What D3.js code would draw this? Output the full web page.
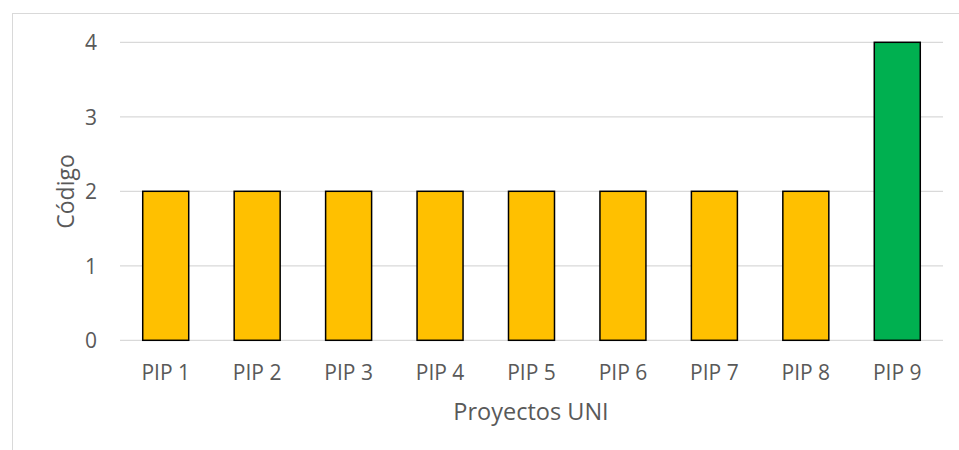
<!DOCTYPE html>
<html><head><meta charset="utf-8">
<script src="https://cdn.jsdelivr.net/npm/d3@7"></script>
<style>
html,body{margin:0;padding:0;background:#fff;}
svg{display:block;font-family:"Open Sans",sans-serif;}
</style></head>
<body>
<svg id="c" width="959" height="450"></svg>
<script>
const categories = ["PIP 1","PIP 2","PIP 3","PIP 4","PIP 5","PIP 6","PIP 7","PIP 8","PIP 9"];
const values = [2,2,2,2,2,2,2,2,4];
const barColors = ["#FFC000","#FFC000","#FFC000","#FFC000","#FFC000","#FFC000","#FFC000","#FFC000","#00B050"];
const yTicks = [0,1,2,3,4];
const xTitle = "Proyectos UNI";
const yTitle = "Código";

(function(){
const svg = d3.select("#c");
const textColor = "#595959";
// chart border
svg.append("rect").attr("x",12.5).attr("y",13.5).attr("width",959).attr("height",460)
  .attr("fill","#fff").attr("stroke","#d9d9d9").attr("stroke-width",1);

const pLeft = 120, pRight = 943, pTop = 42.3, pBottom = 340.3;
const x = d3.scaleBand().domain(categories).range([pLeft,pRight]).paddingInner(0.497).paddingOuter(0.2485);
const y = d3.scaleLinear().domain([0,4]).range([pBottom,pTop]);

// gridlines
svg.append("g").selectAll("line").data(yTicks).join("line")
  .attr("x1",pLeft).attr("x2",pRight)
  .attr("y1",d=>y(d)).attr("y2",d=>y(d))
  .attr("stroke","#d9d9d9").attr("stroke-width",1.3);

// bars
svg.append("g").selectAll("rect").data(values).join("rect")
  .attr("x",(d,i)=>x(categories[i]))
  .attr("width",x.bandwidth())
  .attr("y",d=>y(d))
  .attr("height",d=>y(0)-y(d))
  .attr("fill",(d,i)=>barColors[i])
  .attr("stroke","#000").attr("stroke-width",1.5);

// y axis
const yAxis = d3.axisLeft(y).tickValues(yTicks).tickFormat(d3.format("d")).tickSize(0).tickPadding(0);
const gy = svg.append("g").attr("transform",`translate(97,0)`).call(yAxis);
gy.select(".domain").remove();
gy.selectAll("text").attr("fill",textColor).style("font-size","21px").style("font-family","Open Sans").attr("dy","0.35em");

// x axis
const xAxis = d3.axisBottom(x).tickSize(0).tickPadding(0);
const gx = svg.append("g").attr("transform",`translate(0,${pBottom})`).call(xAxis);
gx.select(".domain").remove();
gx.selectAll("text").attr("fill",textColor).style("font-size","21px").style("font-family","Open Sans").attr("y",39.5).attr("dy",null);

// titles
svg.append("text").attr("x",531).attr("y",419.5).attr("text-anchor","middle")
  .attr("fill",textColor).style("font-size","23.5px").text(xTitle);
svg.append("text").attr("transform","translate(73.5,191.5) rotate(-90)").attr("text-anchor","middle")
  .attr("fill",textColor).style("font-size","23px").text(yTitle);
})();
</script>
</body></html>
